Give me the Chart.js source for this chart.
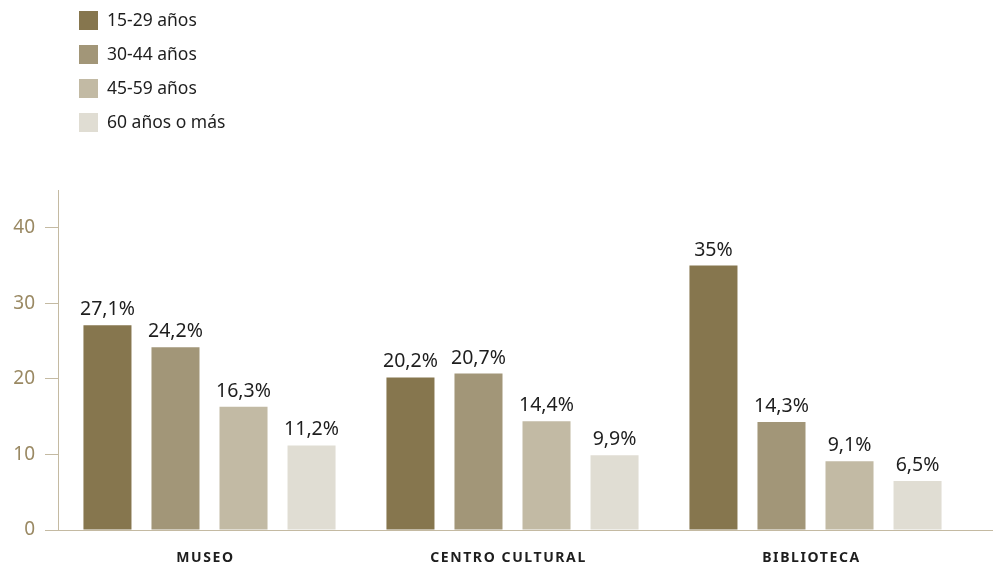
<!DOCTYPE html>
<html>
<head>
<meta charset="utf-8">
<script src="https://cdn.jsdelivr.net/npm/chart.js@4"></script>
<style>
  html, body { margin: 0; padding: 0; background: #fff; }
  #wrap { width: 993px; height: 566px; }
</style>
</head>
<body>
<div id="wrap"><canvas id="myChart" width="993" height="566"></canvas></div>
<script>
// chart values
const categories = ['MUSEO', 'CENTRO CULTURAL', 'BIBLIOTECA'];
const seriesNames = ['15-29 años', '30-44 años', '45-59 años', '60 años o más'];
const age1529 = [27.1, 20.2, 35];
const age3044 = [24.2, 20.7, 14.3];
const age4559 = [16.3, 14.4, 9.1];
const age60 = [11.2, 9.9, 6.5];
const yTicks = [0, 10, 20, 30, 40];

const colors = ['#86764e', '#a29678', '#c2baa4', '#e0ddd3'];
const axisColor = '#c4baa2';
const fontFamily = '"Noto Sans", "Open Sans", sans-serif';

const fmt = v => String(v).replace('.', ',') + '%';

// labels above bars, legend, category names, baseline
const extras = {
  id: 'extras',
  afterDatasetsDraw(chart) {
    const ctx = chart.ctx;
    const area = chart.chartArea;
    ctx.save();

    // baseline across the whole width
    ctx.strokeStyle = axisColor;
    ctx.lineWidth = 1;
    ctx.beginPath();
    ctx.moveTo(area.left - 13, Math.round(area.bottom) + 0.5);
    ctx.lineTo(chart.width, Math.round(area.bottom) + 0.5);
    ctx.stroke();

    // value labels
    ctx.fillStyle = '#1e1e1e';
    ctx.font = '19.5px ' + fontFamily;
    ctx.textAlign = 'center';
    ctx.textBaseline = 'alphabetic';
    chart.data.datasets.forEach((ds, i) => {
      chart.getDatasetMeta(i).data.forEach((bar, j) => {
        ctx.fillText(fmt(ds.data[j]), bar.x, bar.y - 10);
      });
    });

    // category names
    const xs = chart.scales.x;
    ctx.font = 'bold 14px ' + fontFamily;
    ctx.letterSpacing = '1.6px';
    ctx.textBaseline = 'middle';
    categories.forEach((c, i) => {
      ctx.fillText(c, xs.getPixelForValue(i) - 4, 558);
    });
    ctx.letterSpacing = '0px';

    // legend
    ctx.font = '17.5px ' + fontFamily;
    ctx.textAlign = 'left';
    chart.data.datasets.forEach((ds, i) => {
      const cy = 20.5 + i * 34;
      ctx.fillStyle = ds.backgroundColor;
      ctx.fillRect(79, cy - 9.5, 19, 19);
      ctx.fillStyle = '#1e1e1e';
      ctx.fillText(ds.label, 107, cy + 1);
    });
    ctx.restore();
  }
};

const ctx = document.getElementById('myChart').getContext('2d');
const graph = new Chart(ctx, {
  type: 'bar',
  data: {
    labels: categories,
    datasets: [age1529, age3044, age4559, age60].map((d, i) => ({
      label: seriesNames[i],
      data: d,
      backgroundColor: colors[i],
      borderWidth: 0,
      categoryPercentage: 0.898,
      barPercentage: 0.706
    }))
  },
  options: {
    responsive: false,
    animation: false,
    devicePixelRatio: 1,
    layout: { padding: { top: 190, right: 26, left: 0, bottom: 0 } },
    plugins: {
      legend: { display: false },
      tooltip: { enabled: false }
    },
    scales: {
      x: {
        grid: { display: false },
        border: { display: false },
        ticks: { display: false },
        afterFit: s => { s.height = 36; }
      },
      y: {
        min: 0,
        max: 45,
        afterFit: s => { s.width = 58; },
        afterBuildTicks: s => { s.ticks = yTicks.map(v => ({ value: v })); },
        border: { display: true, color: axisColor, width: 1 },
        grid: {
          drawOnChartArea: false,
          drawTicks: true,
          tickLength: 13,
          tickColor: axisColor,
          color: axisColor
        },
        ticks: {
          padding: 10,
          color: '#9a8963',
          font: { family: fontFamily, size: 19 }
        }
      }
    }
  },
  plugins: [extras]
});
</script>
</body>
</html>
